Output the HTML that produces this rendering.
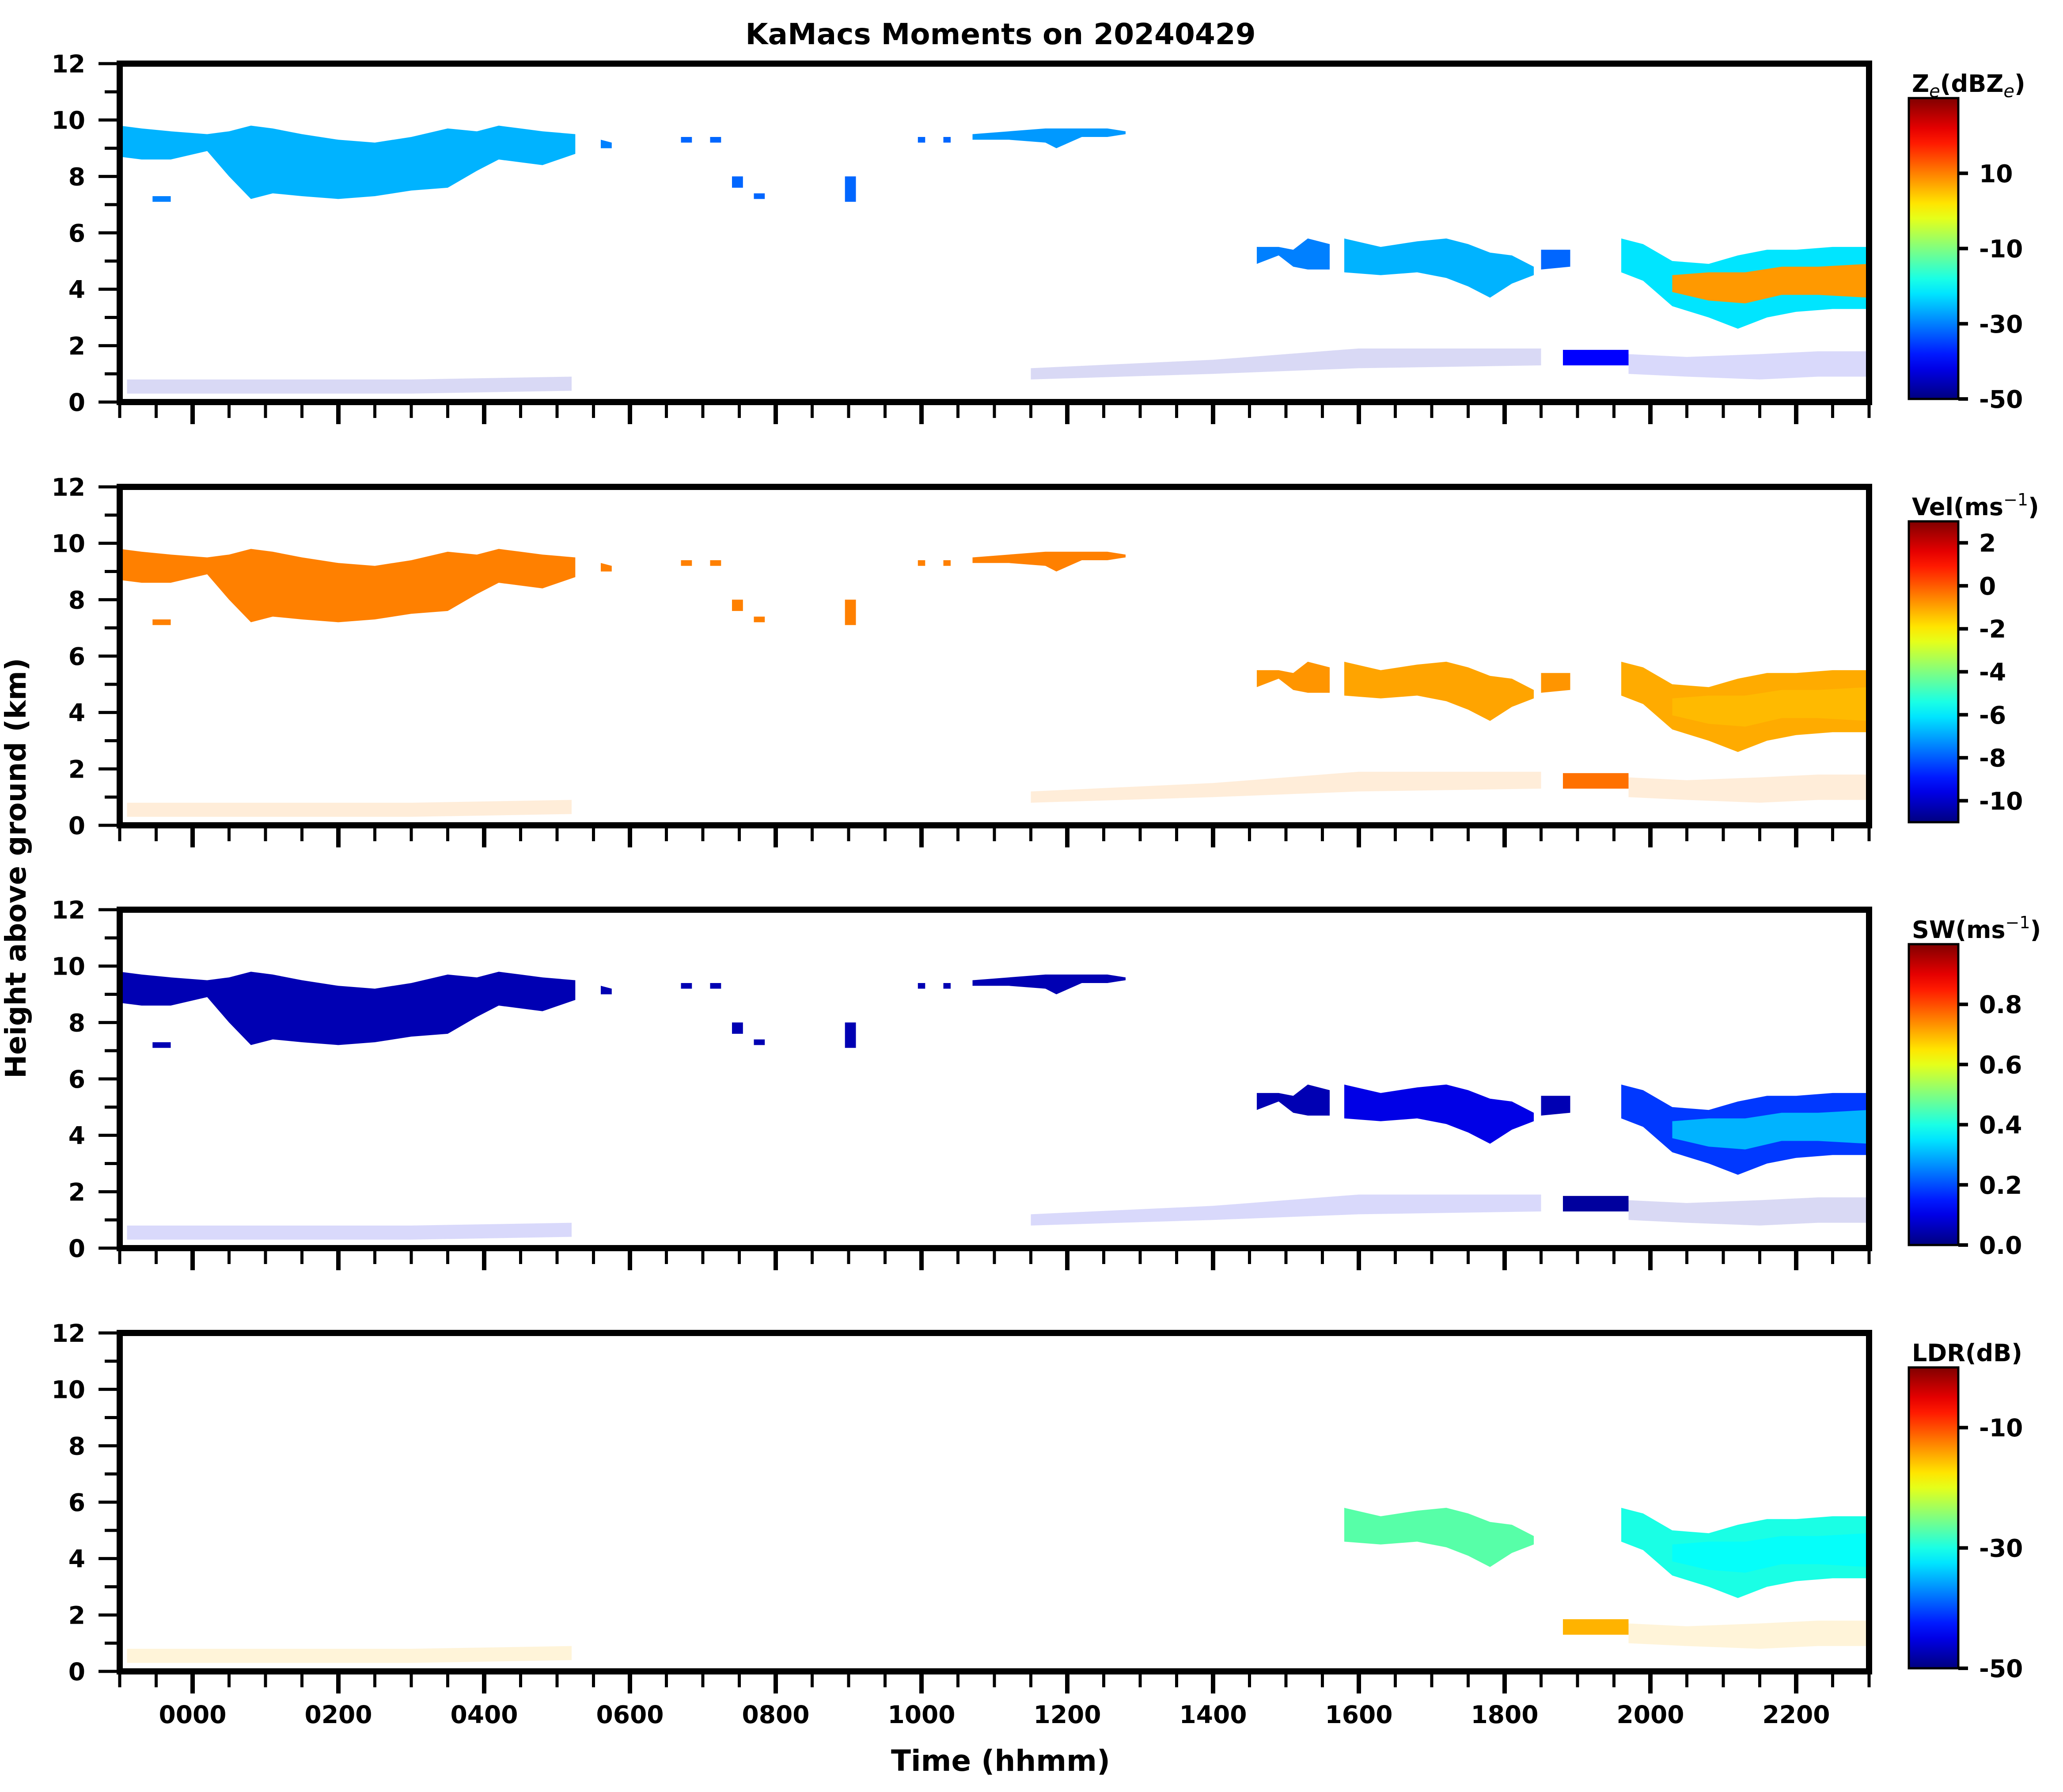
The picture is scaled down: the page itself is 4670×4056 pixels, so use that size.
<!DOCTYPE html>
<html><head><meta charset="utf-8"><style>
html,body{margin:0;padding:0;background:#fff;}
svg{display:block;font-family:"DejaVu Sans","Liberation Sans",sans-serif;font-weight:bold;}
</style></head><body>
<svg id="fig" xmlns="http://www.w3.org/2000/svg" width="4670" height="4056" viewBox="0 0 4670 4056">
<rect width="4670" height="4056" fill="#fff"/>
<text x="2265" y="100" font-size="66" text-anchor="middle">KaMacs Moments on 20240429</text>
<text transform="translate(58,1965) rotate(-90)" font-size="64" text-anchor="middle">Height above ground (km)</text>
<text x="2265" y="4008" font-size="66" text-anchor="middle">Time (hhmm)</text>
</svg>
<script>
// ---- data: cloud regions (time in hours after 0000, heights in km) ----
const cloudNames = ["upper-cirrus","cirrus-tail","small-layer-7km","bit-0640","bit-0710","bit-0730","bit-0745","bit-0900","bit-1000","bit-1020","midday-cirrus","mid-cloud-a","mid-cloud-b","mid-cloud-c","evening-cloud","evening-core","low-cloud-1900","low-cloud-2000","early-low-echo","midday-low-echo"];
const cloudTimes = [
 [-1,-0.7,-0.3,0.2,0.5,0.8,1.1,1.5,2.0,2.5,3.0,3.5,3.9,4.2,4.5,4.8,5.25],
 [5.6,5.75],[-0.55,-0.3],[6.7,6.85],[7.1,7.25],[7.4,7.55],[7.7,7.85],[8.95,9.1],[9.95,10.05],[10.3,10.4],
 [10.7,11.2,11.7,11.85,12.2,12.55,12.8],
 [14.6,14.9,15.1,15.3,15.6],
 [15.8,16.3,16.8,17.2,17.5,17.8,18.1,18.4],
 [18.5,18.9],
 [19.6,19.9,20.3,20.8,21.2,21.6,22.0,22.5,23],
 [20.3,20.8,21.3,21.8,22.3,23],
 [18.8,19.7],[19.7,20.5,21.5,22.3,23],
 [-0.9,1,3,5.2],[11.5,14,16,18.5]
];
const cloudTops = [
 [9.8,9.7,9.6,9.5,9.6,9.8,9.7,9.5,9.3,9.2,9.4,9.7,9.6,9.8,9.7,9.6,9.5],
 [9.3,9.2],[7.3,7.3],[9.4,9.4],[9.4,9.4],[8.0,8.0],[7.4,7.4],[8.0,8.0],[9.4,9.4],[9.4,9.4],
 [9.5,9.6,9.7,9.7,9.7,9.7,9.6],
 [5.5,5.5,5.4,5.8,5.6],
 [5.8,5.5,5.7,5.8,5.6,5.3,5.2,4.8],
 [5.4,5.4],
 [5.8,5.6,5.0,4.9,5.2,5.4,5.4,5.5,5.5],
 [4.5,4.6,4.6,4.8,4.8,4.9],
 [1.85,1.85],[1.7,1.6,1.7,1.8,1.8],
 [0.8,0.8,0.8,0.9],[1.2,1.5,1.9,1.9]
];
const cloudBases = [
 [8.7,8.6,8.6,8.9,8.0,7.2,7.4,7.3,7.2,7.3,7.5,7.6,8.2,8.6,8.5,8.4,8.8],
 [9.0,9.0],[7.1,7.1],[9.2,9.2],[9.2,9.2],[7.6,7.6],[7.2,7.2],[7.1,7.1],[9.2,9.2],[9.2,9.2],
 [9.3,9.3,9.2,9.0,9.4,9.4,9.5],
 [4.9,5.2,4.8,4.7,4.7],
 [4.6,4.5,4.6,4.4,4.1,3.7,4.2,4.5],
 [4.7,4.8],
 [4.6,4.3,3.4,3.0,2.6,3.0,3.2,3.3,3.3],
 [3.9,3.6,3.5,3.8,3.8,3.7],
 [1.3,1.3],[1.0,0.9,0.8,0.9,0.9],
 [0.3,0.3,0.3,0.4],[0.8,1.0,1.2,1.3]
];
const sparseClouds = [false,false,false,false,false,false,false,false,false,false,false,false,false,false,false,false,false,true,true,true];
// per-panel cloud values (null = not observed)
const zeValues  = [-26,-30,-30,-32,-32,-32,-32,-32,-32,-32,-28,-30,-26,-32,-22,8,-40,-42,-45,-45];
const velValues = [-0.5,-0.5,-0.5,-0.5,-0.5,-0.5,-0.5,-0.5,-0.5,-0.5,-0.5,-0.8,-1,-0.8,-1.1,-1.3,-0.3,-0.6,-0.6,-0.6];
const swValues  = [0.05,0.05,0.05,0.05,0.05,0.05,0.05,0.05,0.05,0.05,0.05,0.05,0.1,0.05,0.18,0.3,0.03,0.05,0.1,0.1];
const ldrValues = [null,null,null,null,null,null,null,null,null,null,null,null,-27,null,-30,-31,-15,-15,-15,null];
// colorbar settings
const cbMins = [-50,-11,0,-50];
const cbMaxs = [30,3,1,0];
const cbTicks = [[-50,-30,-10,10],[-10,-8,-6,-4,-2,0,2],[0,0.2,0.4,0.6,0.8],[-50,-30,-10]];
const cbTickLabels = [["-50","-30","-10","10"],["-10","-8","-6","-4","-2","0","2"],["0.0","0.2","0.4","0.6","0.8"],["-50","-30","-10"]];
const yTicks = [0,2,4,6,8,10,12];
const xTickHours = [0,2,4,6,8,10,12,14,16,18,20,22];
const xTickLabels = ["0000","0200","0400","0600","0800","1000","1200","1400","1600","1800","2000","2200"];

const svg = document.getElementById('fig');
const NS = 'http://www.w3.org/2000/svg';
const panelTops = [144,1102,2059,3017];
const PH = 766, XL = 271, XR = 4231, TMIN = -1, TMAX = 23;
function xS(h){ return XL + (h - TMIN) / (TMAX - TMIN) * (XR - XL); }
function yS(p, km){ return panelTops[p] + (12 - km) / 12 * PH; }
function jet(x){
  x = Math.max(0, Math.min(1, x));
  const c = v => Math.round(255 * Math.max(0, Math.min(1, v)));
  return 'rgb(' + c(1.5 - Math.abs(4*x - 3)) + ',' + c(1.5 - Math.abs(4*x - 2)) + ',' + c(1.5 - Math.abs(4*x - 1)) + ')';
}
function mk(tag, attrs, parent){
  const e = document.createElementNS(NS, tag);
  for (const k in attrs) e.setAttribute(k, attrs[k]);
  (parent || svg).appendChild(e);
  return e;
}
const panelValues = [zeValues, velValues, swValues, ldrValues];
const panelKeys = ['ze','vel','sw','ldr'];
const cbTitles = [
  '<tspan>Z</tspan><tspan font-size="40" font-style="italic" font-weight="normal" dy="12">e</tspan><tspan dy="-12">(dBZ</tspan><tspan font-size="40" font-style="italic" font-weight="normal" dy="12">e</tspan><tspan dy="-12">)</tspan>',
  '<tspan>Vel(ms</tspan><tspan font-size="38" font-weight="normal" dy="-22">−1</tspan><tspan dy="22">)</tspan>',
  '<tspan>SW(ms</tspan><tspan font-size="38" font-weight="normal" dy="-22">−1</tspan><tspan dy="22">)</tspan>',
  'LDR(dB)'
];
const defs = mk('defs', {});
const grad = mk('linearGradient', {id:'jetgrad', x1:0, y1:1, x2:0, y2:0}, defs);
for (let i = 0; i <= 20; i++) mk('stop', {offset: (i/20), 'stop-color': jet(i/20)}, grad);

for (let p = 0; p < 4; p++){
  const top = panelTops[p], bot = top + PH;
  const g = mk('g', {});
  
  
  const clip = mk('clipPath', {id:'clip'+p}, defs);
  mk('rect', {x:XL, y:top, width:XR-XL, height:PH}, clip);
  const marks = mk('g', {'clip-path':'url(#clip'+p+')'}, g);
  const vals = panelValues[p];
  for (let c = 0; c < cloudNames.length; c++){
    const v = vals[c];
    if (v === null) continue;
    const t = cloudTimes[c], tp = cloudTops[c], bs = cloudBases[c];
    let pts = [];
    for (let i = 0; i < t.length; i++) pts.push(xS(t[i]).toFixed(1) + ',' + yS(p, tp[i]).toFixed(1));
    for (let i = t.length - 1; i >= 0; i--) pts.push(xS(t[i]).toFixed(1) + ',' + yS(p, bs[i]).toFixed(1));
    const col = jet((v - cbMins[p]) / (cbMaxs[p] - cbMins[p]));
    const poly = mk('polygon', {points: pts.join(' '), fill: col, 'fill-opacity': sparseClouds[c] ? 0.15 : 1}, marks);
    
    
  }
  const frame = mk('rect', {x:XL, y:top, width:XR-XL, height:PH, fill:'none', stroke:'#000', 'stroke-width':14}, g);
  
  
  for (let k = 0; k <= 12; k++){
    const y = yS(p, k);
    const major = k % 2 === 0;
    mk('line', {x1: XL - (major ? 48 : 34), x2: XL, y1: y, y2: y, stroke:'#000', 'stroke-width':7}, g);
  }
  for (let i = 0; i < yTicks.length; i++){
    const lab = mk('text', {x:193, y: yS(p, yTicks[i]) + 20, 'font-size':55, 'text-anchor':'end'}, g);
    lab.textContent = yTicks[i];
    
    
  }
  for (let h = -1; h <= 23.001; h += 0.5){
    const x = xS(h);
    const major = Math.abs(h/2 - Math.round(h/2)) < 1e-6;
    mk('line', {x1:x, x2:x, y1:bot + 7, y2: bot + (major ? 50 : 36), stroke:'#000', 'stroke-width': major ? 10 : 7}, g);
  }
  if (p === 3){
    for (let i = 0; i < xTickHours.length; i++){
      const lab = mk('text', {x: xS(xTickHours[i]), y: 3900, 'font-size':55, 'text-anchor':'middle'}, g);
      lab.textContent = xTickLabels[i];
      
      
    }
  }
  const cbTop = top + 78, cbBot = bot - 7, cbL = 4321, cbR = 4433;
  const cb = mk('g', {}, g);
  
  
  mk('rect', {x:cbL, y:cbTop, width:cbR-cbL, height:cbBot-cbTop, fill:'url(#jetgrad)', stroke:'#000', 'stroke-width':5}, cb);
  for (let i = 0; i < cbTicks[p].length; i++){
    const y = cbBot - (cbTicks[p][i] - cbMins[p]) / (cbMaxs[p] - cbMins[p]) * (cbBot - cbTop);
    mk('line', {x1:cbR, x2:cbR + 22, y1:y, y2:y, stroke:'#000', 'stroke-width':8}, cb);
    const lab = mk('text', {x:4480, y:y + 20, 'font-size':55}, cb);
    lab.textContent = cbTickLabels[p][i];
    
    
  }
  const ttl = mk('text', {x:4328, y:cbTop - 14, 'font-size':54}, cb);
  ttl.innerHTML = cbTitles[p];
  
  
}
</script>
</body></html>
